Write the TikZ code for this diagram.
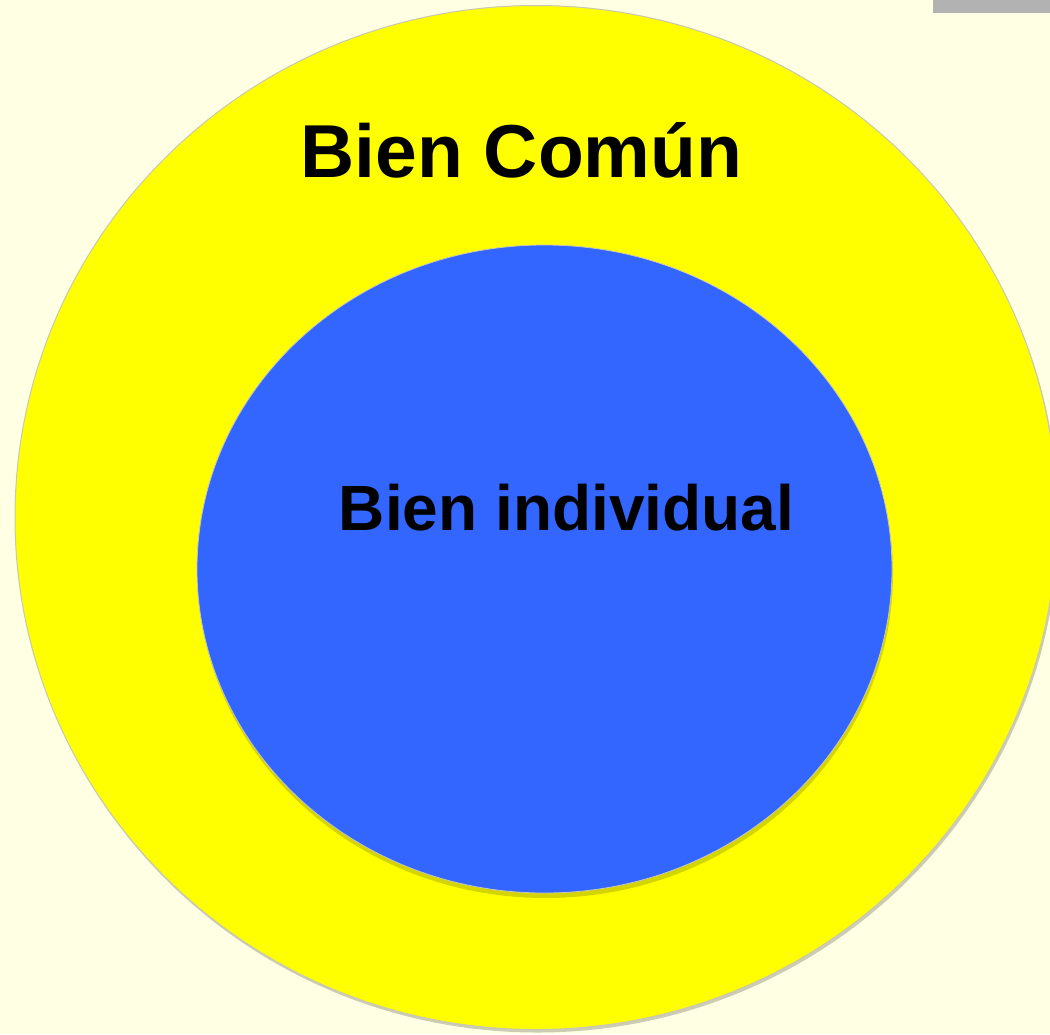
\documentclass[tikz,border=0pt]{standalone}
\usepackage{fontspec}
\setmainfont{Liberation Sans}
\definecolor{bgc}{HTML}{FFFFE3}
\definecolor{yel}{HTML}{FFFF00}
\definecolor{blu}{HTML}{3366FF}
\definecolor{barc}{HTML}{B2B2B2}
\definecolor{edgec}{HTML}{C8C8B4}
\tikzset{
  shadowfill/.style={fill=black, opacity=0.2},
  edgeline/.style={draw=edgec, line width=1pt},
  bigtext/.style={font=\bfseries\fontsize{75}{90}\selectfont, anchor=base, inner sep=0pt},
  smalltext/.style={font=\bfseries\fontsize{64}{77}\selectfont, anchor=base, inner sep=0pt}
}
\begin{document}
\begin{tikzpicture}[x=1pt,y=-1pt]
\useasboundingbox (0,0) rectangle (1050,1034);
\fill[bgc] (0,0) rectangle (1050,1034);
\fill[barc] (933,0) rectangle (1050,13);
% outer ellipse
\fill[shadowfill] (537.5,520.5) ellipse [x radius=521pt, y radius=512pt];
\fill[yel] (536,517.5) ellipse [x radius=521pt, y radius=512pt];
\draw[edgeline] (536,517.5) ellipse [x radius=521pt, y radius=512pt];
% inner ellipse
\fill[black, opacity=0.17] (545.5,574) ellipse [x radius=347.5pt, y radius=324pt];
\fill[blu] (544.5,569) ellipse [x radius=347.5pt, y radius=324pt];
\draw[draw=edgec, line width=0.8pt] (544.5,569) ellipse [x radius=347.5pt, y radius=324pt];
\node[bigtext] (comun) at (521.5,177) {Bien Común};
\node[smalltext] (indiv) at (566.5,530) {Bien individual};
\end{tikzpicture}
\end{document}
